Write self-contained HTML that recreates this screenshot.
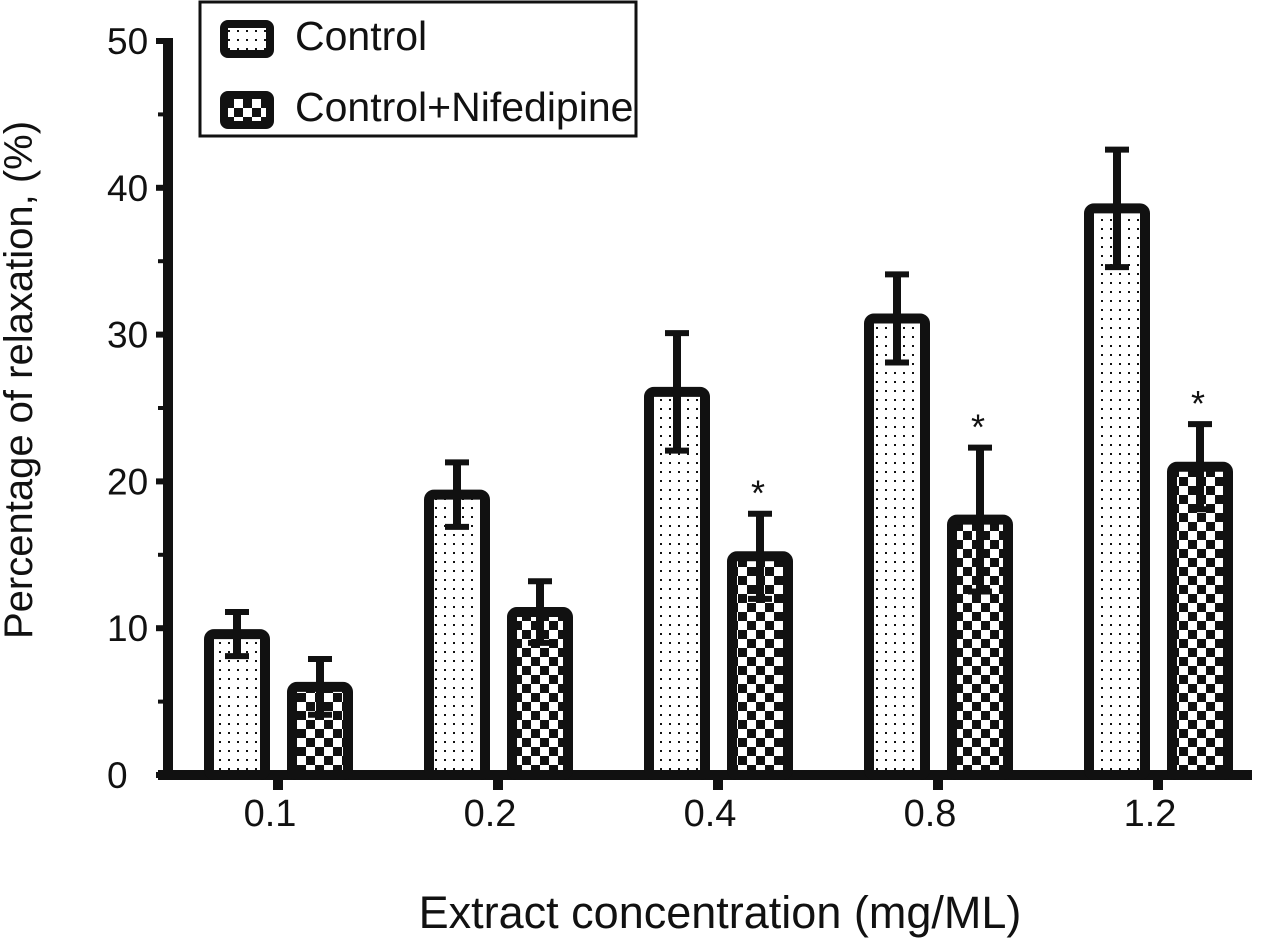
<!DOCTYPE html>
<html><head><meta charset="utf-8"><style>
html,body{margin:0;padding:0;background:#fff;}
svg{display:block;font-family:"Liberation Sans",Arial,sans-serif;}
</style></head><body>
<svg id="chart" width="1272" height="944" viewBox="0 0 1272 944">
<defs>
<pattern id="dots" width="9" height="9" patternUnits="userSpaceOnUse"><rect width="9" height="9" fill="#fff"/><rect x="3" y="3" width="2" height="2" fill="#111"/></pattern>
<pattern id="check" width="18" height="18" patternUnits="userSpaceOnUse"><rect width="18" height="18" fill="#fff"/><rect width="9" height="9" fill="#111"/><rect x="9" y="9" width="9" height="9" fill="#111"/></pattern>
</defs>
<g id="axes"></g>
<g id="bars"></g>
<text x="32" y="380" font-size="40" text-anchor="middle" transform="rotate(-90 32 380)" fill="#111">Percentage of relaxation, (%)</text>
<text x="720" y="928" font-size="45" text-anchor="middle" fill="#111">Extract concentration (mg/ML)</text>
<g>
<rect x="200" y="2" width="436" height="134" fill="#fff" stroke="#111" stroke-width="3"/>
<g>
<rect x="224" y="24" width="46" height="30" rx="4" fill="url(#dots)" stroke="#111" stroke-width="8"/>
<text x="295" y="50" font-size="41" fill="#111">Control</text></g>
<g>
<rect x="224" y="95" width="46" height="30" rx="4" fill="url(#check)" stroke="#111" stroke-width="8"/>
<text x="295" y="121" font-size="41" fill="#111">Control+Nifedipine</text></g>
</g>
</svg>
<script>
const categories=["0.1","0.2","0.4","0.8","1.2"];
const controlVals=[9.6,19.1,26.1,31.1,38.6];
const controlErr=[1.5,2.2,4.0,3.0,4.0];
const nifVals=[6.0,11.1,14.9,17.4,21.0];
const nifErr=[1.9,2.1,2.9,4.9,2.9];
const nifSig=[false,false,true,true,true];
const yTicks=[0,10,20,30,40,50];
const NS="http://www.w3.org/2000/svg";
const y=v=>775-v*14.68;
const gx=i=>278+i*220;
function mk(t,a,p){const e=document.createElementNS(NS,t);for(const k in a)e.setAttribute(k,a[k]);p.appendChild(e);return e;}
const ax=document.getElementById('axes'),bg=document.getElementById('bars');
const yl=mk('line',{x1:168,y1:38,x2:168,y2:780,stroke:'#111','stroke-width':10},ax);


const xl=mk('line',{x1:158,y1:775,x2:1252,y2:775,stroke:'#111','stroke-width':10},ax);


yTicks.forEach(v=>{
 mk('line',{x1:156,y1:y(v),x2:168,y2:y(v),stroke:'#111','stroke-width':6},ax);
 if(v<50) mk('line',{x1:158,y1:y(v+5),x2:168,y2:y(v+5),stroke:'#111','stroke-width':4},ax);
 const t=mk('text',{x:107,y:y(v)+13,'font-size':37,'text-anchor':'start',fill:'#111'},ax);t.textContent=v;
 
 
});
categories.forEach((c,i)=>{
 mk('line',{x1:gx(i),y1:775,x2:gx(i),y2:790,stroke:'#111','stroke-width':10},ax);
 const t=mk('text',{x:gx(i)-8,y:826,'font-size':38,'text-anchor':'middle',fill:'#111'},ax);t.textContent=c;
 
 
 [[controlVals,controlErr,-41,'url(#dots)','control'],[nifVals,nifErr,42,'url(#check)','nifedipine']].forEach(([vals,errs,off,fill,nm])=>{
  const cx=gx(i)+off,v=vals[i],e=errs[i];
  const r=mk('rect',{x:cx-28,y:y(v),width:56,height:775-y(v),rx:5,fill:fill,stroke:'#111','stroke-width':10},bg);
  
  
  mk('line',{x1:cx,y1:y(v+e),x2:cx,y2:y(v-e),stroke:'#111','stroke-width':8},bg);
  mk('line',{x1:cx-12,y1:y(v+e),x2:cx+12,y2:y(v+e),stroke:'#111','stroke-width':6},bg);
  mk('line',{x1:cx-12,y1:y(v-e),x2:cx+12,y2:y(v-e),stroke:'#111','stroke-width':6},bg);
 });
 if(nifSig[i]){const s=mk('text',{x:gx(i)+40,y:y(nifVals[i]+nifErr[i])-8,'font-size':36,'text-anchor':'middle',fill:'#111'},bg);s.textContent='*';
 
 }
});
</script>
</body></html>
